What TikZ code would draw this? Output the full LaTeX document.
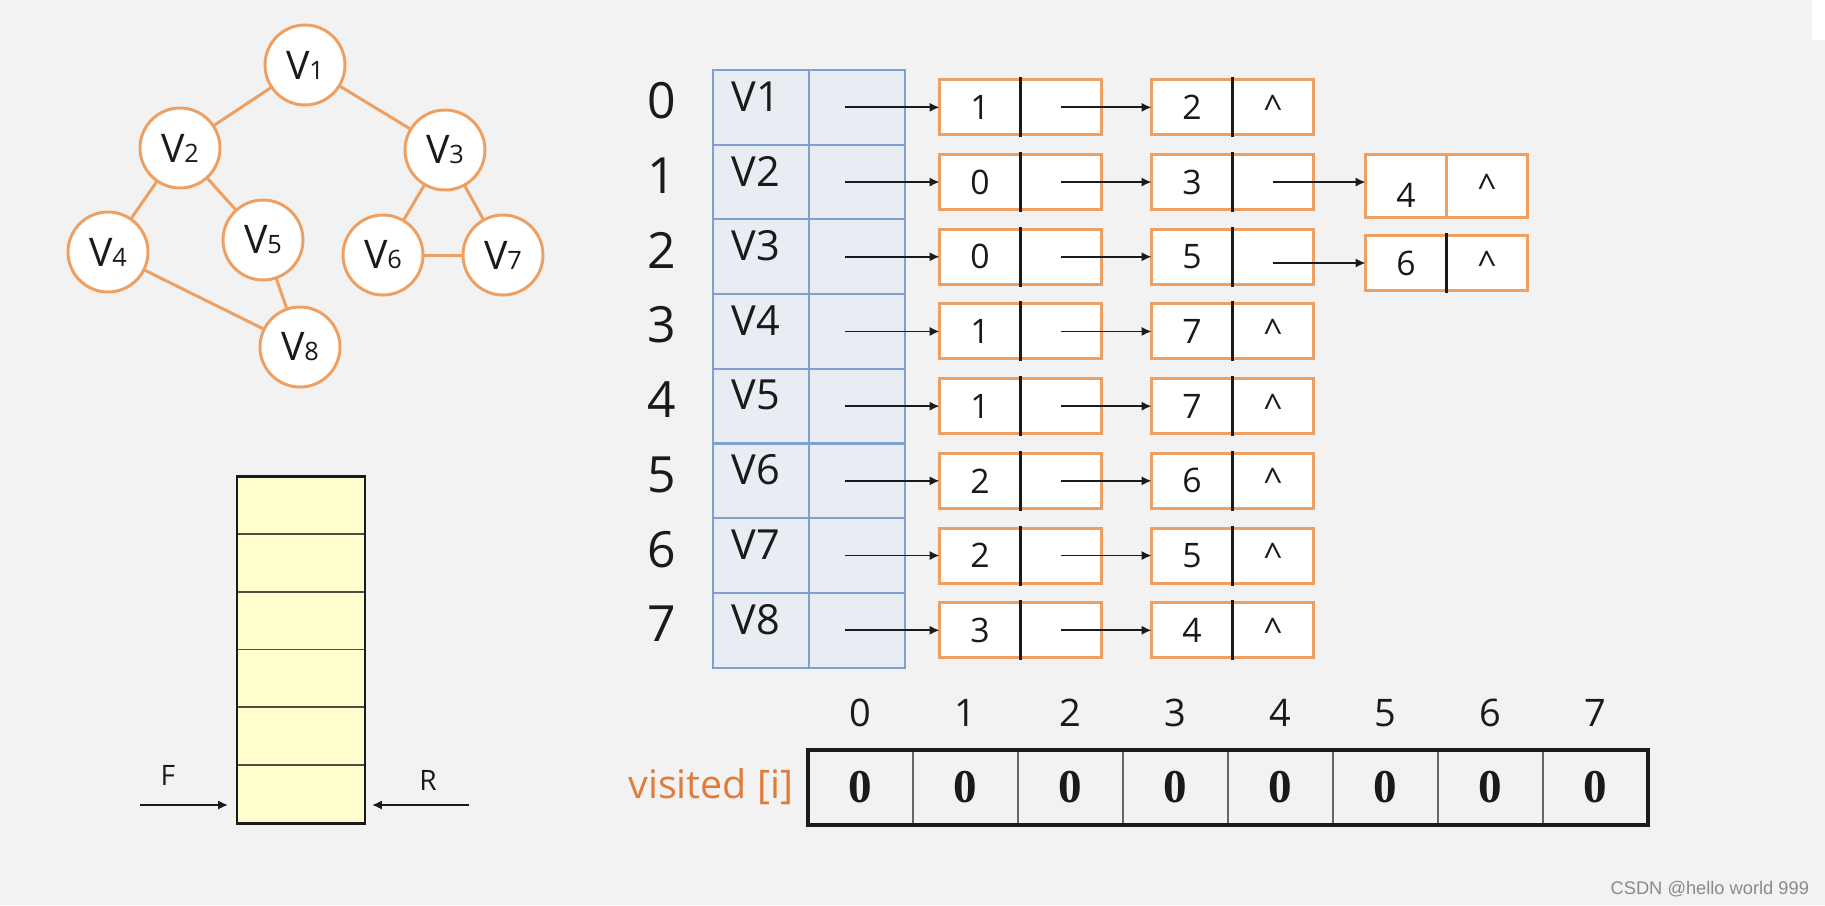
\documentclass[tikz,border=0pt]{standalone}
\usepackage{fontspec}
\setmainfont{Open Sans}
\newfontfamily\boldserif{Liberation Serif}
\newfontfamily\markfont{Liberation Sans}
\usetikzlibrary{arrows.meta,positioning,calc}
\definecolor{pagegray}{HTML}{F2F2F2}
\definecolor{inkblack}{HTML}{1A1A1A}
\definecolor{linkorange}{HTML}{EDA062}
\definecolor{visitorange}{HTML}{E07B39}
\definecolor{tableblue}{HTML}{7FA1CF}
\definecolor{tablefill}{HTML}{E8ECF3}
\definecolor{queuefill}{HTML}{FEFECF}
\definecolor{queueline}{HTML}{4D4D3A}
\definecolor{markgray}{HTML}{8A8A8A}
\newcommand{\gv}[1]{V{\fontsize{7.2pt}{8pt}\selectfont #1}}
\newcommand{\nullptr}{\textasciicircum}

\begin{document}
\begin{tikzpicture}[
  x=0.1mm,
  y=-0.1mm,
  every node/.style={text=inkblack, inner sep=0pt, outer sep=0pt},
  gnode/.style={circle, draw=linkorange, line width=0.85pt, fill=white,
    minimum size=8mm, font=\fontsize{11.2pt}{13pt}\selectfont},
  gedge/.style={linkorange, line width=0.85pt},
  rowno/.style={font=\fontsize{14.2pt}{16pt}\selectfont},
  headcell/.style={draw=tableblue, fill=tablefill, line width=0.6pt,
    minimum width=9.6mm, minimum height=7.47mm},
  headtext/.style={font=\fontsize{11.8pt}{14pt}\selectfont},
  datacell/.style={draw=linkorange, fill=white, line width=0.85pt,
    minimum width=8.1mm, minimum height=5.5mm,
    font=\fontsize{9.6pt}{11pt}\selectfont},
  divider/.style={inkblack, line width=0.6pt,
    shorten <=-0.25mm, shorten >=-0.25mm},
  link/.style={inkblack, line width=0.5pt, -{Latex[length=2.8pt,width=2.6pt]}},
  viscell/.style={draw=gray!80!black, line width=0.45pt,
    minimum width=10.5mm, minimum height=7.5mm,
    font=\boldserif\bfseries\fontsize{13.4pt}{15pt}\selectfont},
  visframe/.style={inkblack, line width=1.1pt},
  visindex/.style={font=\fontsize{10.8pt}{12pt}\selectfont},
  queuebox/.style={draw=inkblack, fill=queuefill, line width=0.85pt,
    minimum width=12.8mm, minimum height=34.7mm},
  qline/.style={queueline, line width=0.55pt},
  qtag/.style={font=\fontsize{8pt}{10pt}\selectfont}
]
  % ---- page --------------------------------------------------------------
  \useasboundingbox (0,0) rectangle (1825,905);
  \fill[pagegray] (0,0) rectangle (1825,905);
  \fill[white] (1812,0) rectangle (1825,40);

  % ---- the graph -----------------------------------------------------------
  \node[gnode] (v1) at (305,65) {\gv{1}};
  \node[gnode] (v2) at (180,148) {\gv{2}};
  \node[gnode] (v3) at (445,150) {\gv{3}};
  \node[gnode] (v4) at (108,252) {\gv{4}};
  \node[gnode] (v5) at (263,240) {\gv{5}};
  \node[gnode] (v6) at (383,255) {\gv{6}};
  \node[gnode] (v7) at (503,255) {\gv{7}};
  \node[gnode] (v8) at (300,347) {\gv{8}};

  \draw[gedge] (v1) -- (v2);
  \draw[gedge] (v1) -- (v3);
  \draw[gedge] (v2) -- (v4);
  \draw[gedge] (v2) -- (v5);
  \draw[gedge] (v3) -- (v6);
  \draw[gedge] (v3) -- (v7);
  \draw[gedge] (v6) -- (v7);
  \draw[gedge] (v4) -- (v8);
  \draw[gedge] (v5) -- (v8);

  % ---- vertex table ----------------------------------------------------------
  \foreach \r [evaluate=\r as \v using int(\r+1)] in {0,...,7} {
    \node[headcell] (tv\r) at (761,{107.35+74.7*\r}) {};
    \node[headcell] (tp\r) at (857,{107.35+74.7*\r}) {};
    \node[headtext] (tl\r) at ([xshift=-0.5mm,yshift=1.1mm]tv\r.center) {V\v};
    \node[rowno] (rn\r) at (662,{101+74.7*\r}) {\r};
  }

  % ---- edge lists: first node of each row ------------------------------------
  \foreach \r/\a in {0/1,1/0,2/0,3/1,4/1,5/2,6/2,7/3} {
    \node[datacell] (a\r) at (980,{107.35+74.7*\r}) {\a};
    \node[datacell, right=0pt of a\r] (ap\r) {};
    \draw[divider] (ap\r.north west) -- (ap\r.south west);
    \draw[link] ([xshift=-1.2mm]tp\r.center) -- (a\r.west);
  }

  % ---- second node ------------------------------------------------------------
  \foreach \r/\b/\p in {0/2/\nullptr,1/3/{},2/5/{},3/7/\nullptr,4/7/\nullptr,
                         5/6/\nullptr,6/5/\nullptr,7/4/\nullptr} {
    \node[datacell] (b\r) at (1192,{107.35+74.7*\r}) {\b};
    \node[datacell, right=0pt of b\r] (bp\r) {\p};
    \draw[divider] (bp\r.north west) -- (bp\r.south west);
    \draw[link] (ap\r.center) -- (b\r.west);
  }

  % ---- third node (rows 1 and 2) ----------------------------------------------
  \node[datacell, minimum height=6.3mm] (c1) at (1406,186) {};
  \node[datacell, minimum height=6.3mm, right=0pt of c1] (cp1) {\nullptr};
  \node[datacell, draw=none, fill=none] (cd1) at (1406,195) {4};
  \draw[link] (bp1.center) -- (bp1.center -| c1.west);

  \node[datacell] (c2) at (1406,263) {6};
  \node[datacell, right=0pt of c2] (cp2) {\nullptr};
  \draw[divider] (cp2.north west) -- (cp2.south west);
  \draw[link] (c2.west -| bp2.center) -- (c2.west);

  % ---- queue -------------------------------------------------------------------
  \node[queuebox] (q) at (301,649.5) {};
  \foreach \k in {1,...,5}
    \draw[qline] ($(q.north west)!\k/6!(q.south west)$)
      -- ($(q.north east)!\k/6!(q.south east)$);
  \draw[inkblack, line width=0.85pt] (q.north west) rectangle (q.south east);

  \coordinate (ftail) at (140,805);
  \coordinate (fhead) at (228,805);
  \coordinate (rtail) at (469,805);
  \coordinate (rhead) at (372,805);
  \draw[link] (ftail) -- (fhead);
  \draw[link] (rtail) -- (rhead);
  \node[qtag] (ftag) at (168,775) {F};
  \node[qtag] (rtag) at (428,780) {R};

  % ---- visited array -----------------------------------------------------------
  \foreach \k in {0,...,7} {
    \node[viscell] (vis\k) at ({860.5+105*\k},787.5) {0};
    \node[visindex] (vi\k) at ({860.5+105*\k},713) {\k};
  }
  \draw[visframe] (vis0.north west) rectangle (vis7.south east);
  \node[text=visitorange, anchor=east, font=\fontsize{11.2pt}{13pt}\selectfont]
    (vlabel) at (793,787) {visited [i]};

  % ---- watermark ---------------------------------------------------------------
  \node[text=markgray, anchor=east, font=\markfont\fontsize{5.2pt}{6pt}\selectfont]
    (mark) at (1809,889) {CSDN @hello world 999};

\end{tikzpicture}
\end{document}
